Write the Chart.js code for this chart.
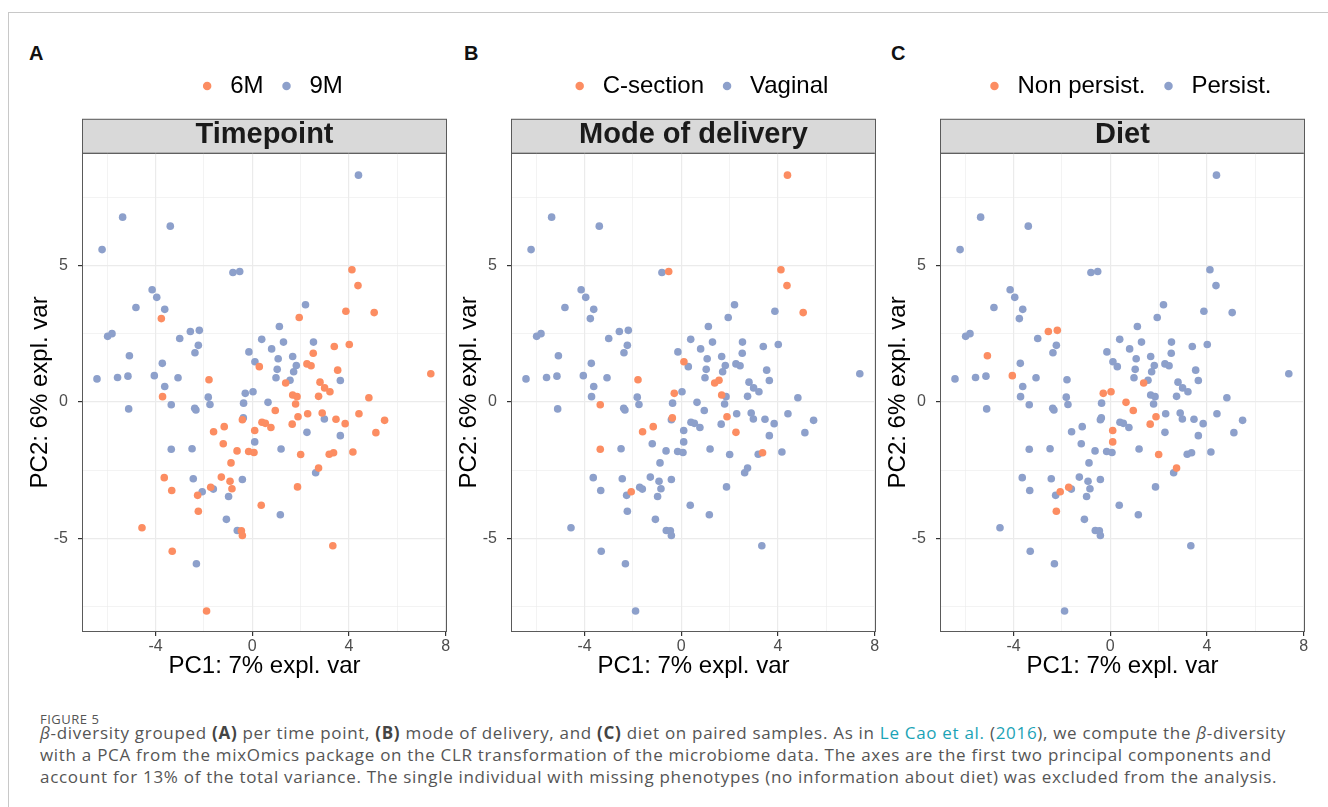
<!DOCTYPE html>
<html lang="en">
<head>
<meta charset="UTF-8" />
<title>Figure 5 – beta-diversity PCA</title>
<script src="https://cdn.jsdelivr.net/npm/chart.js"></script>
<style>
  body {
    margin: 0;
    width: 1328px;
    height: 807px;
    position: relative;
    overflow: hidden;
    background: #fff;
    font-family: "Liberation Sans", Arial, sans-serif;
  }
  .frame {
    position: absolute;
    left: 8px; top: 12px; right: 0; bottom: 0;
    border-top: 1px solid #c8c8c8;
    border-left: 1px solid #c8c8c8;
  }
  .panel { position: absolute; top: 50px; }
  .tag { position: absolute; top: 42px; font-weight: bold; font-size: 20px; color: #111; }
  .fig {
    position: absolute; left: 40px; top: 710px;
    font-family: "Open Sans", sans-serif; font-size: 13px; color: #555; letter-spacing: 0.5px;
  }
  .caption {
    position: absolute; left: 40px; top: 722px;
    font-family: "Open Sans", sans-serif; font-size: 17px; line-height: 22px;
    letter-spacing: 0.7px; color: #555; white-space: nowrap;
  }
  .caption b { color: #444; }
  .caption a { color: #1ba3b6; text-decoration: none; }
</style>
</head>
<body>
<div class="frame"></div>

<div class="tag" style="left:29px">A</div>
<div class="tag" style="left:464px">B</div>
<div class="tag" style="left:891px">C</div>

<canvas id="chartA" class="panel" style="left:22px" width="440" height="631"></canvas>
<canvas id="chartB" class="panel" style="left:451px" width="440" height="631"></canvas>
<canvas id="chartC" class="panel" style="left:880px" width="440" height="631"></canvas>

<div class="fig">FIGURE 5</div>
<div class="caption">
  <i>β</i>-diversity grouped <b>(A)</b> per time point, <b>(B)</b> mode of delivery, and <b>(C)</b> diet on paired samples. As in <a>Le Cao et al.</a> (<a>2016</a>), we compute the <i>β</i>-diversity<br>
  with a PCA from the mixOmics package on the CLR transformation of the microbiome data. The axes are the first two principal components and<br>
  account for 13% of the total variance. The single individual with missing phenotypes (no information about diet) was excluded from the analysis.
</div>

<script>
  // PCA scores; first 69 samples are 9M, the rest 6M
  const pc1 = [
    -5.36, -3.39, -6.21, -0.80, -0.52, -4.14, -3.95, -4.81, -3.62, -5.98,
    -5.80, -3.00, -2.56, -2.19, -2.23, -2.37, 0.39, 0.80, -0.14, -5.08,
    -3.72, 0.11, -6.42, -5.57, -5.14, -4.05, -3.07, -3.62, -1.82, -0.29,
    0.03, -0.36, 4.39, 2.20, 1.12, 1.29, 2.53, 1.07, 1.67, 1.82,
    1.03, 1.71, 0.98, 1.56, 3.64, 0.65, 2.98, 2.26, 3.64, 1.19,
    2.62, 1.16, -1.75, -3.35, -5.11, -2.38, -2.33, -0.37, 0.10, -3.35,
    -2.49, -2.44, -0.41, -1.61, -2.07, -0.98, -1.07, -0.62, -2.31,
    -3.76, 0.29, -1.79, -3.71, 4.12, 4.37, 1.94, 3.87, 5.04, 3.39,
    4.01, 2.52, 2.26, 2.43, 3.53, 1.38, 2.80, 7.38, 2.99, 3.21,
    1.67, 1.85, 2.74, 4.82, 1.79, 0.95, 2.29, 1.89, 2.89, 3.46,
    3.84, 4.41, 5.47, 5.11, 0.40, 0.54, 0.77, 1.65, 2.00, 3.18,
    3.36, 4.16, 2.74, 1.87, 3.33, -0.41, -1.16, -1.60, 0.10, -1.20,
    -0.63, -0.15, 0.07, -0.88, -3.64, -1.28, -0.92, -3.33, -1.72, -0.84,
    -2.26, 0.37, -2.23, -4.56, -0.45, -0.41, -3.31, -1.89
  ];
  const pc2 = [
    6.78, 6.45, 5.59, 4.75, 4.79, 4.12, 3.84, 3.47, 3.40, 2.41,
    2.51, 2.33, 2.59, 2.63, 2.08, 1.81, 2.30, 1.95, 1.84, 1.70,
    1.42, 1.48, 0.85, 0.90, 0.95, 0.97, 0.89, 0.57, 0.18, 0.32,
    0.38, -0.04, 8.32, 3.57, 2.77, 2.20, 2.20, 1.59, 1.67, 1.34,
    1.20, 1.11, 0.89, 0.80, 0.79, -0.01, -0.62, -1.11, -1.23, -1.72,
    -2.59, -4.13, -0.09, -0.10, -0.25, -0.23, -0.29, -0.58, -1.46, -1.73,
    -1.71, -2.81, -2.84, -3.19, -3.29, -3.46, -4.30, -4.71, -5.93,
    3.06, 1.30, 0.82, 0.20, 4.85, 4.27, 3.10, 3.33, 3.28, 2.04,
    2.11, 1.79, 1.40, 1.33, 1.17, 0.70, 0.73, 1.04, 0.52, 0.38,
    0.26, 0.20, 0.21, 0.16, -0.07, -0.31, -0.43, -0.54, -0.40, -0.63,
    -0.79, -0.43, -0.67, -1.12, -0.74, -0.78, -0.93, -0.81, -1.92, -1.91,
    -1.86, -1.83, -2.42, -3.11, -5.27, -0.65, -0.90, -1.09, -1.04, -1.53,
    -1.79, -1.81, -1.85, -2.23, -2.77, -2.75, -2.90, -3.24, -3.12, -3.18,
    -3.42, -3.78, -4.00, -4.61, -4.72, -4.89, -5.47, -7.66
  ];
  const n9M = 69;
  // sample indices falling in the first (orange) group of panels B and C
  const cSection = [4, 21, 29, 32, 43, 47, 53, 57, 59, 64, 71, 73, 74, 77, 84, 89, 96, 109, 115, 116];
  const nonPersist = [12, 13, 19, 25, 29, 30, 45, 58, 64, 84, 94, 96, 106, 107, 111, 117, 127, 131];

  const xTicks = [-6, -4, -2, 0, 2, 4, 6, 8];
  const yTicks = [-7.5, -5, -2.5, 0, 2.5, 5, 7.5];
  const groupColors = ['#FC8D62', '#8DA0CB'];

  Chart.defaults.font.family = '"Liberation Sans", Arial, sans-serif';
  Chart.defaults.color = '#000';

  const panels = [
    { id: 'chartA', title: 'Timepoint', groups: ['6M', '9M'],
      groupOf: i => i < n9M ? '9M' : '6M' },
    { id: 'chartB', title: 'Mode of delivery', groups: ['C-section', 'Vaginal'],
      groupOf: i => cSection.includes(i) ? 'C-section' : 'Vaginal' },
    { id: 'chartC', title: 'Diet', groups: ['Non persist.', 'Persist.'],
      groupOf: i => nonPersist.includes(i) ? 'Non persist.' : 'Persist.' }
  ];

  // grey facet strip above the panel and the frame round it
  const stripAndFrame = {
    id: 'stripAndFrame',
    afterLayout(chart) {
      // ggplot centres the legend a little right of the panel centre
      if (chart.legend) {
        chart.legend.left += 5;
        chart.legend.right += 5;
      }
    },
    beforeDraw(chart) {
      const { ctx, chartArea: a } = chart;
      ctx.save();
      ctx.fillStyle = '#D9D9D9';
      ctx.fillRect(a.left, a.top - 34, a.right - a.left, 34);
      ctx.strokeStyle = '#5a5a5a';
      ctx.lineWidth = 1;
      ctx.strokeRect(a.left + 0.5, a.top - 34 + 0.5, a.right - a.left - 1, 34);
      ctx.restore();
    },
    afterDraw(chart) {
      const { ctx, chartArea: a } = chart;
      ctx.save();
      ctx.strokeStyle = '#5a5a5a';
      ctx.lineWidth = 1;
      ctx.strokeRect(a.left + 0.5, a.top + 0.5, a.right - a.left - 1, a.bottom - a.top - 1);
      ctx.restore();
    }
  };

  const isMajor = (v, step) => Math.abs(v % step) < 1e-9;

  panels.forEach(p => {
    const datasets = p.groups.map((g, k) => {
      const pts = [];
      pc1.forEach((x, i) => {
        if (p.groupOf(i) === g) pts.push({ x: x, y: pc2[i] });
      });
      return {
        label: g,
        data: pts,
        backgroundColor: groupColors[k],
        pointBackgroundColor: groupColors[k],
        borderWidth: 0,
        pointRadius: 3.8,
        pointStyle: 'circle'
      };
    });

    new Chart(document.getElementById(p.id), {
      type: 'scatter',
      data: { datasets: datasets },
      plugins: [stripAndFrame],
      options: {
        responsive: false,
        animation: false,
        events: [],
        layout: { padding: { top: 12, right: 15, bottom: 0, left: 0 } },
        plugins: {
          tooltip: { enabled: false },
          legend: {
            position: 'top',
            fullSize: false,
            weight: 3000,
            labels: {
              usePointStyle: true,
              pointStyle: 'circle',
              boxWidth: 22,
              boxHeight: 6,
              padding: 12,
              color: '#000',
              font: { size: 24 }
            }
          },
          title: {
            display: true,
            text: p.title,
            fullSize: false,
            color: '#1a1a1a',
            font: { size: 29, weight: 'bold' },
            padding: { top: 10, bottom: 0 }
          }
        },
        scales: {
          x: {
            type: 'linear',
            min: -7.04,
            max: 8.05,
            afterBuildTicks: s => { s.ticks = xTicks.map(v => ({ value: v })); },
            afterFit: s => { s.height = 49; },
            border: { display: false },
            grid: {
              color: '#EBEBEB',
              lineWidth: c => isMajor(c.tick.value, 4) ? 1.2 : 0.6,
              tickLength: 4,
              tickColor: c => isMajor(c.tick.value, 4) ? '#333' : 'rgba(0,0,0,0)'
            },
            ticks: {
              autoSkip: false,
              maxRotation: 0,
              padding: 1,
              color: '#4D4D4D',
              font: { size: 16 },
              callback: v => isMajor(v, 4) ? String(v) : ''
            },
            title: {
              display: true,
              text: 'PC1: 7% expl. var',
              color: '#000',
              font: { size: 24 },
              padding: { top: 0, bottom: 0 }
            }
          },
          y: {
            type: 'linear',
            min: -8.43,
            max: 9.14,
            afterBuildTicks: s => { s.ticks = yTicks.map(v => ({ value: v })); },
            afterFit: s => { s.width = 60; },
            border: { display: false },
            grid: {
              color: '#EBEBEB',
              lineWidth: c => isMajor(c.tick.value, 5) ? 1.2 : 0.6,
              tickLength: 4,
              tickColor: c => isMajor(c.tick.value, 5) ? '#333' : 'rgba(0,0,0,0)'
            },
            ticks: {
              autoSkip: false,
              padding: 10,
              color: '#4D4D4D',
              font: { size: 16 },
              callback: v => isMajor(v, 5) ? String(v) : ''
            },
            title: {
              display: true,
              text: 'PC2: 6% expl. var',
              color: '#000',
              font: { size: 24 },
              padding: { top: 4, bottom: 0 }
            }
          }
        }
      }
    });
  });
</script>
</body>
</html>
